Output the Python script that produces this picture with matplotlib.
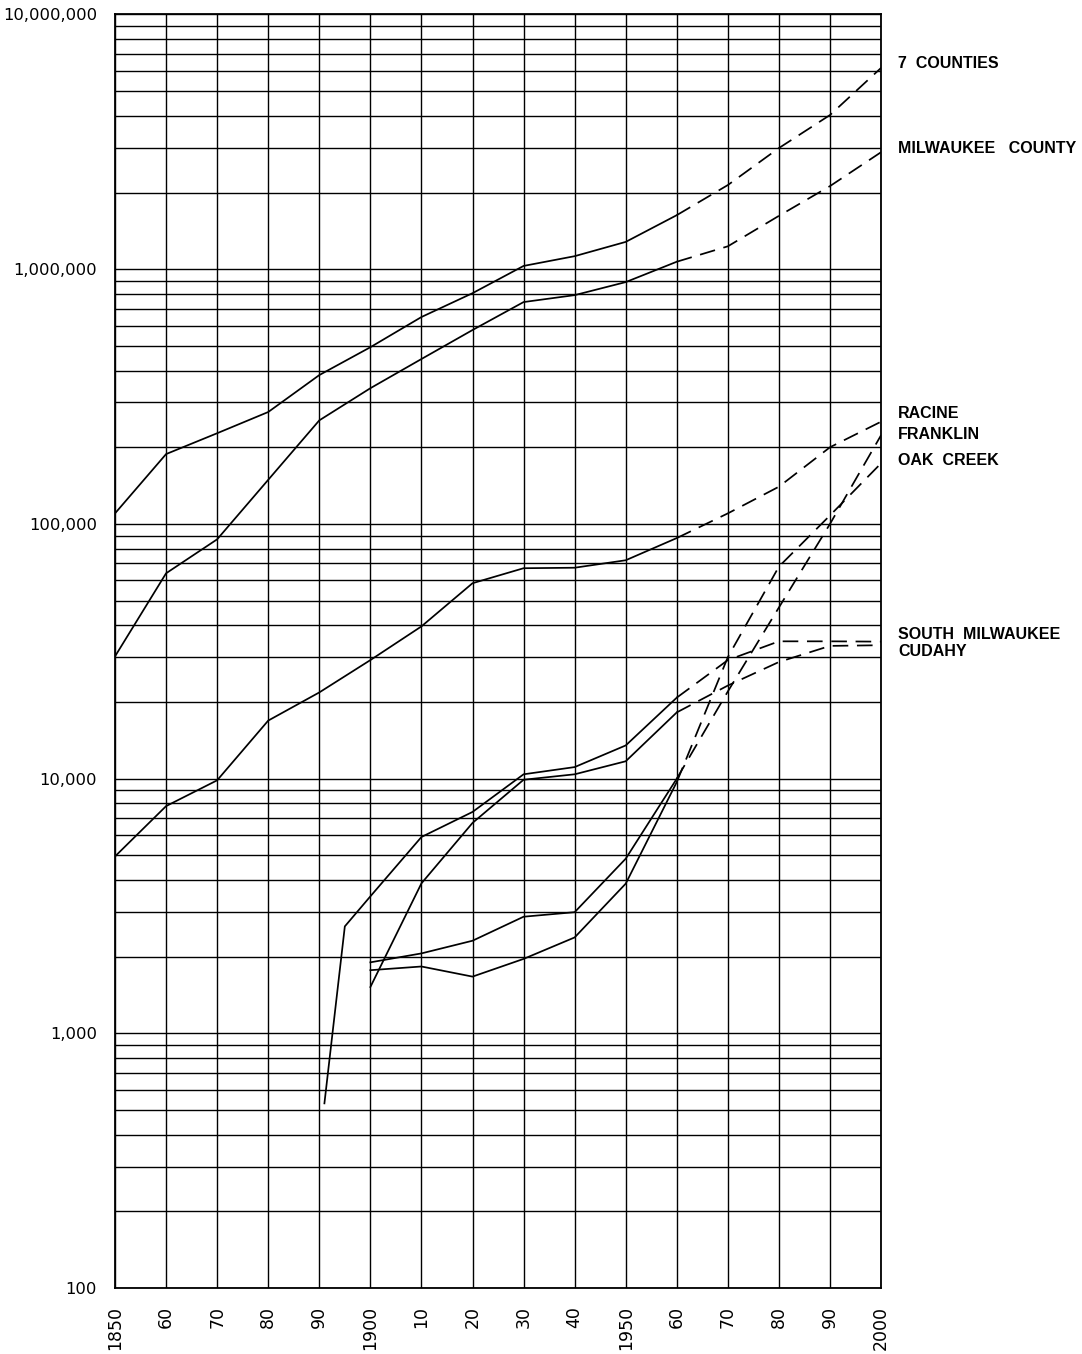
import matplotlib
matplotlib.use('Agg')
import matplotlib.pyplot as plt
import matplotlib.transforms as mtransforms
import numpy as np

# census years (solid) and projection years (dashed)
years_hist = [1850, 1860, 1870, 1880, 1890, 1900, 1910, 1920, 1930, 1940, 1950, 1960]
years_town = [1900, 1910, 1920, 1930, 1940, 1950, 1960]
years_sm = [1891, 1895, 1900, 1910, 1920, 1930, 1940, 1950, 1960]
years_proj = [1960, 1970, 1980, 1990, 2000]

seven_counties = [110000, 188000, 227000, 275000, 384000, 494000, 649000, 805000,
                  1030000, 1125000, 1280000, 1630000]
seven_counties_proj = [1630000, 2140000, 2990000, 4030000, 6170000]

milwaukee_county = [30200, 64000, 87000, 149000, 255000, 341000, 444000, 577000,
                    743000, 791000, 890000, 1070000]
milwaukee_county_proj = [1070000, 1230000, 1620000, 2120000, 2880000]

racine = [4950, 7800, 9850, 16900, 21800, 29200, 39600, 58500, 67000, 67300, 72000, 88000]
racine_proj = [88000, 110000, 140000, 200000, 252000]

south_milwaukee = [531, 2630, 3450, 5900, 7400, 10400, 11100, 13500, 20800]
south_milwaukee_proj = [20800, 29200, 34600, 34600, 34500]

cudahy = [1520, 3880, 6700, 9900, 10400, 11700, 18200]
cudahy_proj = [18200, 23200, 28700, 33200, 33400]

franklin = [1900, 2060, 2310, 2870, 2990, 4850, 10000]
franklin_proj = [10000, 22000, 47000, 100000, 223000]

oak_creek = [1770, 1830, 1670, 1960, 2380, 3870, 9700]
oak_creek_proj = [9700, 30000, 68000, 108000, 173000]

x_ticks = [1850, 1860, 1870, 1880, 1890, 1900, 1910, 1920, 1930, 1940,
           1950, 1960, 1970, 1980, 1990, 2000]
x_labels = ["1850", "60", "70", "80", "90", "1900", "10", "20", "30", "40",
            "1950", "60", "70", "80", "90", "2000"]
y_ticks = [100, 1000, 10000, 100000, 1000000, 10000000]
y_labels = ["100", "1,000", "10,000", "100,000", "1,000,000", "10,000,000"]

labels = ["7  COUNTIES", "MILWAUKEE   COUNTY", "RACINE", "FRANKLIN", "OAK  CREEK",
          "SOUTH  MILWAUKEE", "CUDAHY"]
label_y = [6400000, 2990000, 272000, 225000, 178000, 36900, 31600]


fig = plt.figure(figsize=(10.82, 13.54), dpi=100)
ax = fig.add_axes([0.1063, 0.0487, 0.708, 0.9406])

ax.set_yscale('log')
ax.set_xlim(1850, 2000)
ax.set_ylim(100, 10000000)

# grid: every decade of years, every 1..9 step of the log axis
for yr in x_ticks:
    ax.axvline(yr, color='black', lw=1.0, zorder=1)
minor = [m * 10 ** k for k in range(2, 7) for m in range(1, 10)] + [10000000]
for v in minor:
    ax.axhline(v, color='black', lw=1.0, zorder=1)

for s in ax.spines.values():
    s.set_linewidth(1.3)
    s.set_color('black')

lw = 1.25
dash = (0, (9, 5))
series = [
    (years_hist, seven_counties, seven_counties_proj),
    (years_hist, milwaukee_county, milwaukee_county_proj),
    (years_hist, racine, racine_proj),
    (years_sm, south_milwaukee, south_milwaukee_proj),
    (years_town, cudahy, cudahy_proj),
    (years_town, franklin, franklin_proj),
    (years_town, oak_creek, oak_creek_proj),
]
for yrs, vals, proj in series:
    ax.plot(yrs, vals, color='black', lw=lw, zorder=3, solid_joinstyle='miter')
    ax.plot(years_proj, proj, color='black', lw=lw, linestyle=dash, zorder=3)

ax.set_xticks(x_ticks)
ax.set_xticklabels(x_labels, rotation=90, fontsize=12.5, family='DejaVu Sans')
ax.set_yticks(y_ticks)
ax.set_yticklabels(y_labels, fontsize=11.8, family='DejaVu Sans')
ax.yaxis.set_minor_formatter(plt.NullFormatter())
ax.tick_params(axis='both', which='both', length=0)
ax.tick_params(axis='x', pad=13)
ax.tick_params(axis='y', pad=13)
for t in ax.get_xticklabels():
    t.set_verticalalignment('top')

trans = mtransforms.blended_transform_factory(ax.transAxes, ax.transData)
for txt, yv in zip(labels, label_y):
    ax.text(1.022, yv, txt, transform=trans, ha='left', va='center',
            fontsize=11.5, fontweight='bold', family='Liberation Sans', clip_on=False)

fig.savefig('out.png', dpi=100, facecolor='white')
plt.close(fig)
